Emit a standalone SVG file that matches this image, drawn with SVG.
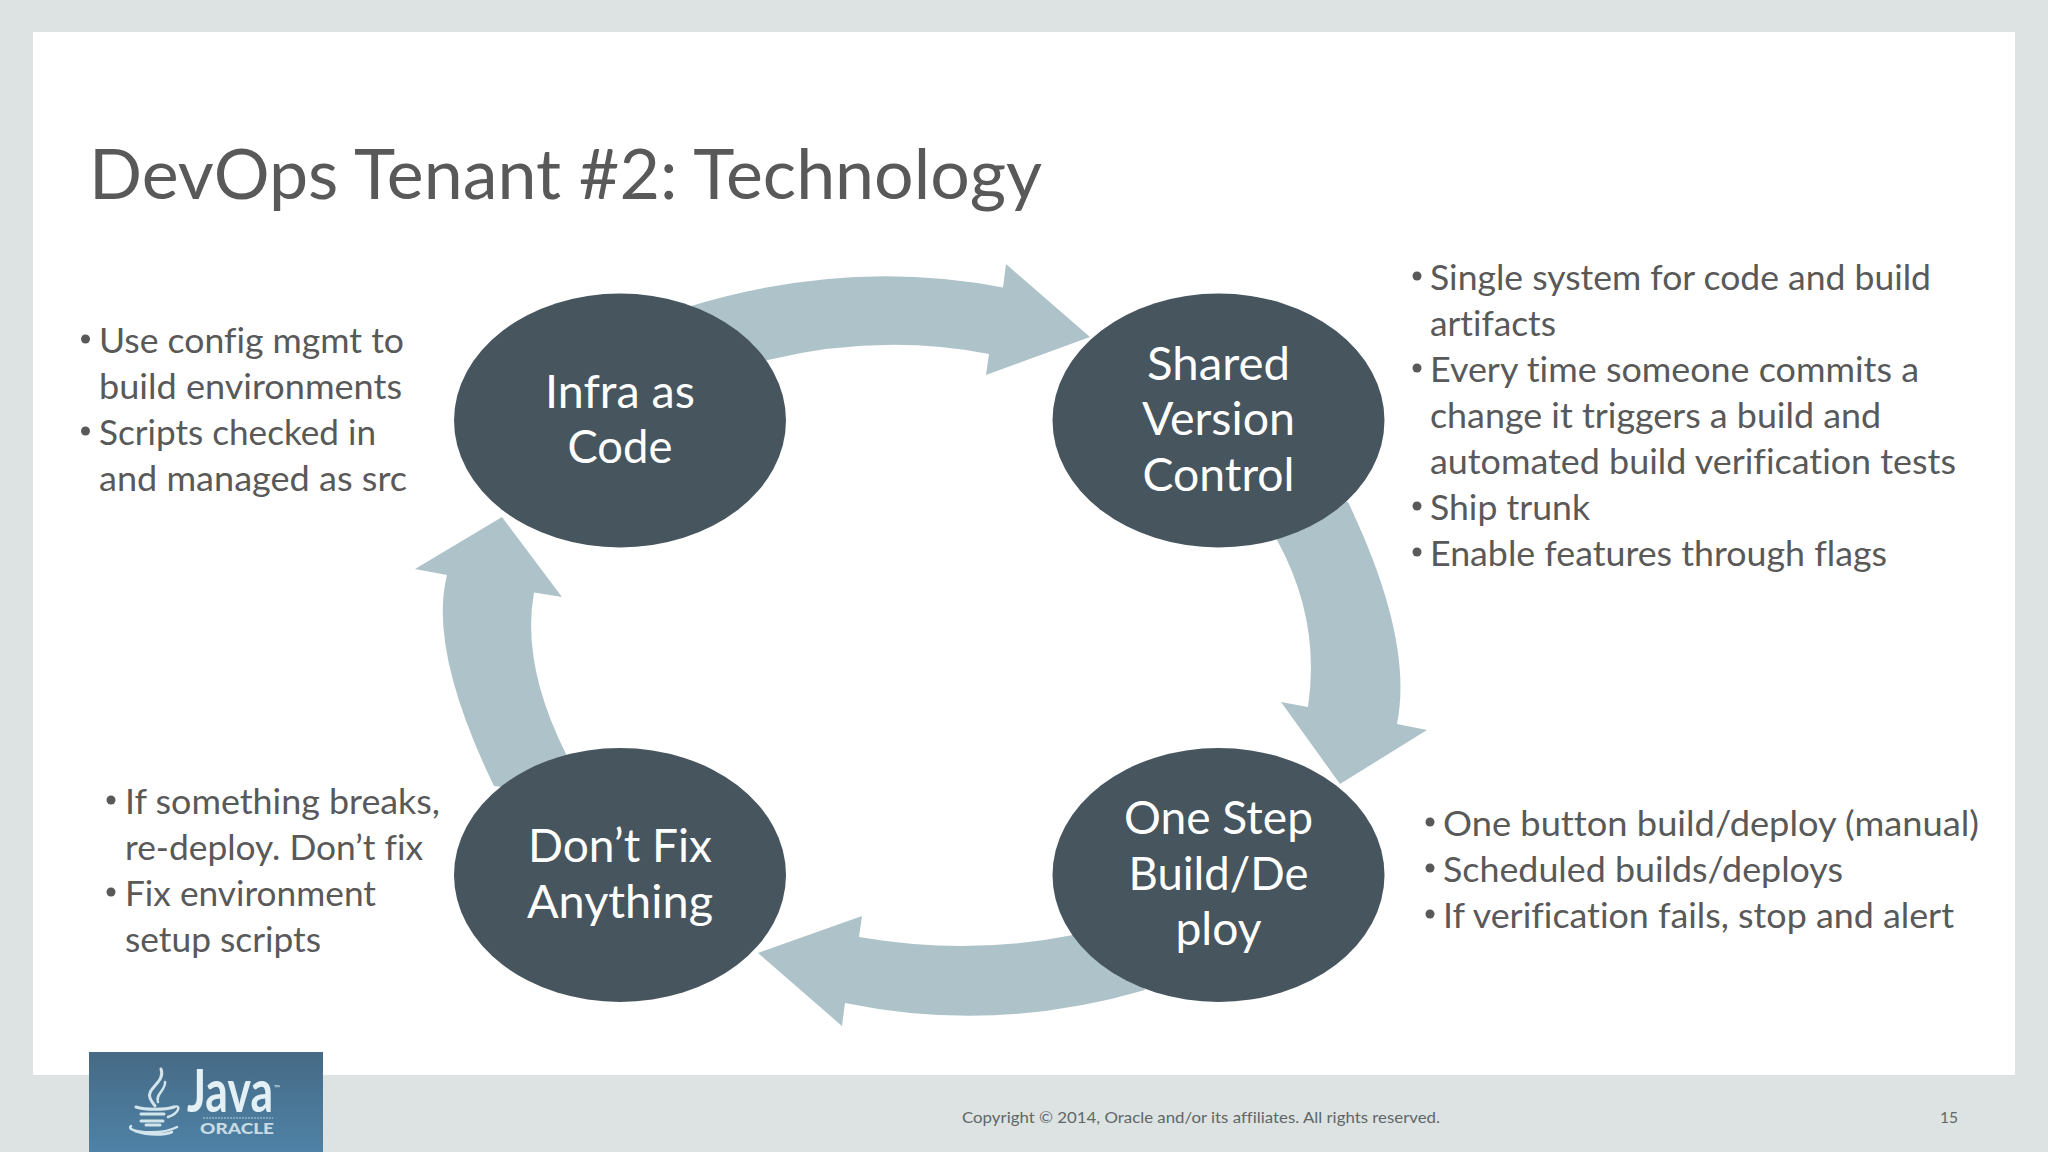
<svg xmlns="http://www.w3.org/2000/svg" width="2048" height="1152" viewBox="0 0 2048 1152">
<style>
text{font-family:"Lato","Liberation Sans",sans-serif;font-variant-ligatures:none}
.b{font-size:34px;fill:#595959}
.n{font-size:47px;fill:#fff;text-anchor:middle}
.e{fill:#47555e}
.a{fill:#aec3c9}
.f{font-size:16px;fill:#5f6769}
.s{fill:none;stroke:#d3e5ec;stroke-linecap:round}
.d{fill:#595959}
</style>
<defs><linearGradient id="lg" x1="0" y1="0" x2="0" y2="1"><stop offset="0" stop-color="#466a85"/><stop offset="1" stop-color="#4e82a6"/></linearGradient></defs>
<rect width="2048" height="1152" fill="#dde3e2"/>
<rect x="33" y="32" width="1982" height="1043" fill="#fff"/>
<text x="89" y="199" font-size="69" fill="#595959" textLength="953" lengthAdjust="spacingAndGlyphs">DevOps Tenant #2: Technology</text>
<g id="connectors">
<path class="a" d="M691 306Q850 258 1003 287.5L1006 264L1090 337L986 375L989 354Q880 333 768 360L700 380Z"/>
<path class="a" d="M1348 502Q1414 640 1397 724L1427 730L1340 784L1281 702L1308 707Q1321 620 1277 540L1250 500Z"/>
<path class="a" d="M1145 990Q995 1034 845 1003L842 1026L758 953L862 916L859 937Q970 956 1073 935L1100 900Z"/>
<path class="a" d="M494 786Q428 650 447 575L415 569L502 517L562 597L534 592.5Q521 664 566 754L600 800Z"/>
</g>
<g id="node-infra"><ellipse class="e" cx="620" cy="420.5" rx="166" ry="127"/>
<text class="n" x="620" y="408" textLength="150" lengthAdjust="spacingAndGlyphs">Infra as</text>
<text class="n" x="620" y="463" textLength="105" lengthAdjust="spacingAndGlyphs">Code</text></g>
<g id="node-version"><ellipse class="e" cx="1218.5" cy="420.5" rx="166" ry="127"/>
<text class="n" x="1218.5" y="380" textLength="143" lengthAdjust="spacingAndGlyphs">Shared</text>
<text class="n" x="1218.5" y="435" textLength="153" lengthAdjust="spacingAndGlyphs">Version</text>
<text class="n" x="1218.5" y="491" textLength="152" lengthAdjust="spacingAndGlyphs">Control</text></g>
<g id="node-build"><ellipse class="e" cx="1218.5" cy="875" rx="166" ry="127"/>
<text class="n" x="1218.5" y="834" textLength="189" lengthAdjust="spacingAndGlyphs">One Step</text>
<text class="n" x="1218.5" y="890" textLength="180" lengthAdjust="spacingAndGlyphs">Build/De</text>
<text class="n" x="1218.5" y="945" textLength="86" lengthAdjust="spacingAndGlyphs">ploy</text></g>
<g id="node-nofix"><ellipse class="e" cx="620" cy="875" rx="166" ry="127"/>
<text class="n" x="620" y="862" textLength="184" lengthAdjust="spacingAndGlyphs">Don’t Fix</text>
<text class="n" x="620" y="918" textLength="186" lengthAdjust="spacingAndGlyphs">Anything</text></g>
<g id="notes-infra">
<circle class="d" cx="85.5" cy="339" r="4.5"/><circle class="d" cx="85.5" cy="431" r="4.5"/>
<text class="b" x="99" y="352.5" textLength="305" lengthAdjust="spacingAndGlyphs">Use config mgmt to</text>
<text class="b" x="99" y="398.5" textLength="303" lengthAdjust="spacingAndGlyphs">build environments</text>
<text class="b" x="99" y="444.5" textLength="277" lengthAdjust="spacingAndGlyphs">Scripts checked in</text>
<text class="b" x="99" y="490.5" textLength="308" lengthAdjust="spacingAndGlyphs">and managed as src</text>
</g>
<g id="notes-version">
<circle class="d" cx="1417" cy="276" r="4.5"/><circle class="d" cx="1417" cy="368" r="4.5"/><circle class="d" cx="1417" cy="506" r="4.5"/><circle class="d" cx="1417" cy="552" r="4.5"/>
<text class="b" x="1430" y="289.5" textLength="501" lengthAdjust="spacingAndGlyphs">Single system for code and build</text>
<text class="b" x="1430" y="335.5" textLength="126" lengthAdjust="spacingAndGlyphs">artifacts</text>
<text class="b" x="1430" y="382" textLength="489" lengthAdjust="spacingAndGlyphs">Every time someone commits a</text>
<text class="b" x="1430" y="428" textLength="451" lengthAdjust="spacingAndGlyphs">change it triggers a build and</text>
<text class="b" x="1430" y="474" textLength="526" lengthAdjust="spacingAndGlyphs">automated build verification tests</text>
<text class="b" x="1430" y="520" textLength="160" lengthAdjust="spacingAndGlyphs">Ship trunk</text>
<text class="b" x="1430" y="566" textLength="457" lengthAdjust="spacingAndGlyphs">Enable features through flags</text>
</g>
<g id="notes-build">
<circle class="d" cx="1430" cy="822" r="4.5"/><circle class="d" cx="1430" cy="868" r="4.5"/><circle class="d" cx="1430" cy="914" r="4.5"/>
<text class="b" x="1443" y="835.5" textLength="536" lengthAdjust="spacingAndGlyphs">One button build/deploy (manual)</text>
<text class="b" x="1443" y="881.5" textLength="400" lengthAdjust="spacingAndGlyphs">Scheduled builds/deploys</text>
<text class="b" x="1443" y="927.5" textLength="511" lengthAdjust="spacingAndGlyphs">If verification fails, stop and alert</text>
</g>
<g id="notes-nofix">
<circle class="d" cx="111" cy="800" r="4.5"/><circle class="d" cx="111" cy="892" r="4.5"/>
<text class="b" x="125" y="813.5" textLength="315" lengthAdjust="spacingAndGlyphs">If something breaks,</text>
<text class="b" x="125" y="859.5" textLength="298" lengthAdjust="spacingAndGlyphs">re-deploy. Don’t fix</text>
<text class="b" x="125" y="905.5" textLength="251" lengthAdjust="spacingAndGlyphs">Fix environment</text>
<text class="b" x="125" y="951.5" textLength="196" lengthAdjust="spacingAndGlyphs">setup scripts</text>
</g>
<g id="logo">
<rect x="89" y="1052" width="234" height="100" fill="url(#lg)"/>
<path class="s" stroke-width="3" d="M161 1069C166 1082 146 1088 150 1098C152 1103 154 1104 155 1106"/>
<path class="s" stroke-width="2.5" d="M165 1082C166 1090 155 1094 158 1102"/>
<path class="s" stroke-width="3" d="M136 1107C145 1110 165 1110 174 1107"/>
<path class="s" stroke-width="2.5" d="M174 1107C181 1104 180 1113 168 1117"/>
<path class="s" stroke-width="3" d="M141 1114H164M141 1121H163M146 1125H160"/>
<path class="s" stroke-width="2.5" d="M131 1126C124 1132 160 1136 177 1127M135 1131C150 1136 165 1135 172 1132"/>
<text x="187" y="1112" font-size="60" font-weight="700" fill="#e3f0f5" textLength="86" lengthAdjust="spacingAndGlyphs">Java</text>
<text x="274" y="1091" font-size="8" fill="#d3e5ec">™</text>
<path d="M203 1118H273" stroke="#b9d3df" stroke-width="1" stroke-dasharray="2 1" fill="none"/>
<text x="200" y="1134" font-size="15" font-weight="900" fill="#c7dbe4" textLength="74" lengthAdjust="spacingAndGlyphs">ORACLE</text>
</g>
<g id="footer">
<text class="f" x="962" y="1123" textLength="478" lengthAdjust="spacingAndGlyphs">Copyright © 2014, Oracle and/or its affiliates. All rights reserved.</text>
<text class="f" x="1940" y="1123" textLength="18" lengthAdjust="spacingAndGlyphs">15</text>
</g>
</svg>
